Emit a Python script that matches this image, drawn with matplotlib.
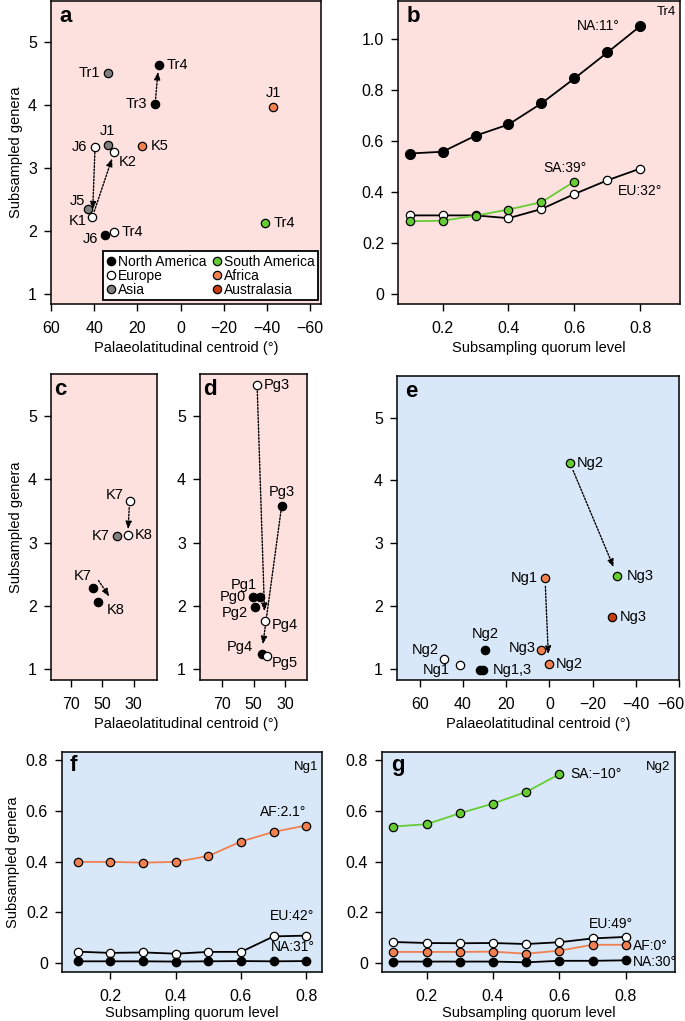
import matplotlib.pyplot as plt
import matplotlib.transforms as mtransforms
from matplotlib.lines import Line2D

plt.rcParams['font.family'] = ['Liberation Sans', 'DejaVu Sans']
plt.rcParams['axes.unicode_minus'] = True

# colours per region
colours = {'NA': 'black', 'EU': 'white', 'AS': '#808080',
           'SA': '#66cc33', 'AF': '#f08050', 'AU': '#c83c14'}
region_names = [('NA', 'North America'), ('EU', 'Europe'), ('AS', 'Asia'),
                ('SA', 'South America'), ('AF', 'Africa'), ('AU', 'Australasia')]

# panel a
a_names = ['Tr1', 'Tr4', 'Tr3', 'J1', 'J6', 'J1', 'K2', 'K5', 'J5', 'K1', 'J6', 'Tr4', 'Tr4']
a_region = ['AS', 'NA', 'NA', 'AF', 'EU', 'AS', 'EU', 'AF', 'AS', 'EU', 'NA', 'EU', 'SA']
a_lat = [33.4, 10.2, 11.8, -42.9, 39.6, 33.7, 30.7, 17.7, 42.8, 40.8, 35.0, 31.0, -39.3]
a_gen = [4.52, 4.645, 4.02, 3.98, 3.34, 3.37, 3.26, 3.35, 2.35, 2.23, 1.94, 1.99, 2.13]
a_arrows = [(2, 1), (4, 9), (9, 6)]

# panel c
c_names = ['K7', 'K8', 'K7', 'K7', 'K8']
c_region = ['EU', 'EU', 'AS', 'NA', 'NA']
c_lat = [32.6, 33.7, 40.7, 56.1, 52.7]
c_gen = [3.66, 3.12, 3.11, 2.29, 2.06]
c_arrows = [(0, 1)]

# panel d
d_names = ['Pg3', 'Pg3', 'Pg1', 'Pg0', 'Pg2', 'Pg4', 'Pg4', 'Pg5']
d_region = ['EU', 'NA', 'NA', 'NA', 'NA', 'EU', 'NA', 'EU']
d_lat = [47.7, 32.1, 46.0, 50.2, 49.1, 42.8, 44.9, 41.7]
d_gen = [5.48, 3.58, 2.14, 2.14, 1.99, 1.76, 1.24, 1.21]
d_arrows = [(0, 5), (1, 6)]

# panel e
e_names = ['Ng2', 'Ng3', 'Ng1', 'Ng3', 'Ng2', 'Ng3', 'Ng2', 'Ng2', 'Ng1', '', 'Ng1,3']
e_region = ['SA', 'SA', 'AF', 'AU', 'NA', 'AF', 'AF', 'EU', 'EU', 'NA', 'NA']
e_lat = [-9.5, -31.5, 2.0, -28.8, 29.7, 3.8, 0.3, 48.8, 41.5, 32.3, 30.5]
e_gen = [4.28, 2.48, 2.45, 1.83, 1.30, 1.30, 1.085, 1.16, 1.07, 0.99, 0.99]
e_arrows = [(0, 1), (2, 6)]

# panels b, f, g
quorum = [0.1, 0.2, 0.3, 0.4, 0.5, 0.6, 0.7, 0.8]
b_eu = [0.308, 0.308, 0.308, 0.297, 0.333, 0.392, 0.446, 0.492]
b_sa = [0.285, 0.287, 0.307, 0.331, 0.360, 0.441]
b_na = [0.551, 0.558, 0.621, 0.665, 0.748, 0.846, 0.948, 1.052]

f_af = [0.399, 0.399, 0.396, 0.399, 0.422, 0.479, 0.517, 0.542]
f_eu = [0.046, 0.041, 0.043, 0.038, 0.045, 0.045, 0.106, 0.109]
f_na = [0.008, 0.008, 0.008, 0.007, 0.008, 0.009, 0.008, 0.009]

g_sa = [0.538, 0.547, 0.590, 0.628, 0.674, 0.744]
g_eu = [0.084, 0.080, 0.079, 0.080, 0.076, 0.083, 0.098, 0.104]
g_af = [0.045, 0.045, 0.045, 0.046, 0.038, 0.050, 0.073, 0.073]
g_na = [0.007, 0.007, 0.007, 0.007, 0.004, 0.010, 0.010, 0.012]

PINK = '#fde1de'
BLUE = '#d8e8f8'
TICK_FS = 11.5
LAB_FS = 10.5
PT_FS = 10.5
LINE_FS = 10
W, H = 685, 1021
fig = plt.figure(figsize=(W / 100, H / 100), dpi=100)


def px_axes(l, t, r, b, bg):
    ax = fig.add_axes([l / W, 1 - b / H, (r - l) / W, (b - t) / H])
    ax.set_facecolor(bg)
    for s in ax.spines.values():
        s.set_linewidth(1.1)
    ax.tick_params(direction='out', length=5, width=1, labelsize=TICK_FS)
    ax.tick_params(axis='x', pad=7)
    ax.tick_params(axis='y', pad=5)
    return ax


def letter(ax, s):
    ax.text(0.03, 0.985, s, transform=ax.transAxes, fontsize=16,
            fontweight='bold', ha='left', va='top')


def scatter_panel(ax, lat, gen, region, names, offsets):
    for x, y, r, n, (dx, dy, ha) in zip(lat, gen, region, names, offsets):
        ax.plot(x, y, 'o', ms=6, mfc=colours[r], mec='black', mew=0.9, zorder=3)
        if n:
            ax.annotate(n, (x, y), xytext=(dx, dy), textcoords='offset points',
                        ha=ha, va='center', fontsize=PT_FS)


def arrows(ax, lat, gen, pairs, sa=4, sb=5):
    for i, j in pairs:
        ax.annotate('', xy=(lat[j], gen[j]), xytext=(lat[i], gen[i]),
                    arrowprops=dict(arrowstyle='-|>,head_length=0.45,head_width=0.18',
                                    ls=(0, (1.2, 1.2)), lw=1, color='black',
                                    shrinkA=sa, shrinkB=sb), zorder=2)


def yfmt(ax, ticks):
    ax.set_yticks(ticks)
    ax.set_yticklabels(['0' if t == 0 else f'{t:.1f}' for t in ticks])


# ---- a
ax = px_axes(51, 1, 321, 304, PINK)
ax.set_xlim(60, -65)
ax.set_ylim(0.84, 5.66)
ax.set_xticks([60, 40, 20, 0, -20, -40, -60])
ax.set_yticks([1, 2, 3, 4, 5])
a_off = [(-6, 0, 'right'), (6, 0, 'left'), (-6, 0, 'right'), (0, 10, 'center'),
         (-6, 0, 'right'), (0, 10, 'center'), (10, -7, 'center'), (6, 0, 'left'),
         (-2, 6, 'right'), (-4, -3, 'right'), (-5, -3, 'right'), (6, 0, 'left'),
         (6, 0, 'left')]
arrows(ax, a_lat, a_gen, a_arrows)
scatter_panel(ax, a_lat, a_gen, a_region, a_names, a_off)
ax.set_xlabel('Palaeolatitudinal centroid (°)', fontsize=LAB_FS, labelpad=4)
ax.set_ylabel('Subsampled genera', fontsize=LAB_FS, labelpad=4)
letter(ax, 'a')
handles = [Line2D([], [], ls='none', marker='o', ms=6, mfc=colours[k], mec='black',
                  mew=0.9, label=v) for k, v in region_names]
leg = ax.legend(handles=handles, ncol=2, loc='lower right',
                bbox_to_anchor=(0.99, 0.012), fontsize=10, frameon=True,
                fancybox=False, framealpha=1, edgecolor='black', borderpad=0.25,
                labelspacing=0.0, handletextpad=0.15, columnspacing=0.4,
                handlelength=0.7, borderaxespad=0)
leg.get_frame().set_linewidth(1.3)

# ---- b
ax = px_axes(398, 1, 680, 304, PINK)
ax.set_xlim(0.065, 0.92)
ax.set_ylim(-0.04, 1.15)
ax.set_xticks([0.2, 0.4, 0.6, 0.8])
yfmt(ax, [0, 0.2, 0.4, 0.6, 0.8, 1.0])
ax.plot(quorum, b_na, '-o', color='black', lw=1.3, ms=7, mfc='black', mec='black')
ax.plot(quorum, b_eu, '-o', color='black', lw=1.3, ms=6, mfc='white', mec='black', mew=0.9)
ax.plot(quorum[:len(b_sa)], b_sa, '-o', color=colours['SA'], lw=1.3, ms=6,
        mfc=colours['SA'], mec='black', mew=0.9)
ax.annotate('NA:11°', (quorum[-1], b_na[-1]), xytext=(-15, 0),
            textcoords='offset points', ha='right', va='center', fontsize=LINE_FS)
ax.annotate('SA:39°', (quorum[len(b_sa) - 1], b_sa[-1]), xytext=(-7, 10),
            textcoords='offset points', ha='center', va='center', fontsize=LINE_FS)
ax.annotate('EU:32°', (quorum[-1], b_eu[-1]), xytext=(0, -16),
            textcoords='offset points', ha='center', va='center', fontsize=LINE_FS)
ax.text(0.985, 0.985, 'Tr4', transform=ax.transAxes, ha='right', va='top', fontsize=9.5)
ax.set_xlabel('Subsampling quorum level', fontsize=LAB_FS, labelpad=4)
letter(ax, 'b')

# ---- c
ax = px_axes(51, 374, 157, 680, PINK)
ax.set_xlim(83, 15)
ax.set_ylim(0.83, 5.66)
ax.set_xticks([70, 50, 30])
ax.set_yticks([1, 2, 3, 4, 5])
c_off = [(-4, 4, 'right'), (5, 0, 'left'), (-5, 0, 'right'), (-1, 8, 'right'), (6, -6, 'left')]
arrows(ax, c_lat, c_gen, c_arrows, sa=5, sb=4)
# NA K7 -> K8 arrow drawn to the right of the points
tA = mtransforms.offset_copy(ax.transData, fig, x=4, y=5, units='points')
tB = mtransforms.offset_copy(ax.transData, fig, x=8, y=4, units='points')
ax.annotate('', xy=(c_lat[4], c_gen[4]), xycoords=tB, xytext=(c_lat[3], c_gen[3]),
            textcoords=tA,
            arrowprops=dict(arrowstyle='-|>,head_length=0.45,head_width=0.18',
                            ls=(0, (1.2, 1.2)), lw=1, color='black', shrinkA=0, shrinkB=0))
scatter_panel(ax, c_lat, c_gen, c_region, c_names, c_off)
ax.set_ylabel('Subsampled genera', fontsize=LAB_FS, labelpad=4)
letter(ax, 'c')

# ---- d
ax = px_axes(200, 374, 307, 680, PINK)
ax.set_xlim(84, 16)
ax.set_ylim(0.83, 5.66)
ax.set_xticks([70, 50, 30])
ax.set_yticks([1, 2, 3, 4, 5])
d_off = [(5, 0, 'left'), (0, 10, 'center'), (-2, 9, 'right'), (-5, 0, 'right'),
         (-5, -5, 'right'), (5, -3, 'left'), (-6, 5, 'right'), (4, -5, 'left')]
arrows(ax, d_lat, d_gen, d_arrows, sa=4, sb=7)
scatter_panel(ax, d_lat, d_gen, d_region, d_names, d_off)
letter(ax, 'd')
fig.text(186 / W, 1 - 724 / H, 'Palaeolatitudinal centroid (°)', ha='center',
         va='center', fontsize=LAB_FS)

# ---- e
ax = px_axes(397, 376, 679, 680, BLUE)
ax.set_xlim(70.5, -60)
ax.set_ylim(0.83, 5.66)
ax.set_xticks([60, 40, 20, 0, -20, -40, -60])
ax.set_yticks([1, 2, 3, 4, 5])
last = ax.get_xticklabels()[-1]
last.set_horizontalalignment('right')
last.set_transform(last.get_transform() + mtransforms.ScaledTranslation(5 / 100, 0, fig.dpi_scale_trans))
e_off = [(5, 0, 'left'), (7, 0, 'left'), (-5, 0, 'right'), (6, 0, 'left'),
         (0, 12, 'center'), (-4, 2, 'right'), (5, 0, 'left'), (-4, 7, 'right'),
         (-7, -4, 'right'), (0, 0, 'left'), (7, 0, 'left')]
arrows(ax, e_lat, e_gen, e_arrows, sa=6, sb=7)
scatter_panel(ax, e_lat, e_gen, e_region, e_names, e_off)
ax.set_xlabel('Palaeolatitudinal centroid (°)', fontsize=LAB_FS, labelpad=4)
letter(ax, 'e')

# ---- f
ax = px_axes(62, 752, 322, 972, BLUE)
ax.set_xlim(0.052, 0.848)
ax.set_ylim(-0.034, 0.831)
ax.set_xticks([0.2, 0.4, 0.6, 0.8])
yfmt(ax, [0, 0.2, 0.4, 0.6, 0.8])
ax.plot(quorum, f_af, '-o', color=colours['AF'], lw=1.3, ms=6, mfc=colours['AF'],
        mec='black', mew=0.9)
ax.plot(quorum, f_eu, '-o', color='black', lw=1.3, ms=6, mfc='white', mec='black', mew=0.9)
ax.plot(quorum, f_na, '-o', color='black', lw=1.3, ms=6, mfc='black', mec='black')
ax.annotate('AF:2.1°', (quorum[-1], f_af[-1]), xytext=(0, 10),
            textcoords='offset points', ha='right', va='center', fontsize=LINE_FS)
ax.annotate('EU:42°', (quorum[-1], f_eu[-1]), xytext=(-10, 14),
            textcoords='offset points', ha='center', va='center', fontsize=LINE_FS)
ax.annotate('NA:31°', (quorum[-1], f_na[-1]), xytext=(-10, 10),
            textcoords='offset points', ha='center', va='center', fontsize=LINE_FS)
ax.text(0.985, 0.96, 'Ng1', transform=ax.transAxes, ha='right', va='top', fontsize=9.5)
ax.set_xlabel('Subsampling quorum level', fontsize=LAB_FS, labelpad=2)
ax.set_ylabel('Subsampled genera', fontsize=LAB_FS, labelpad=4)
letter(ax, 'f')

# ---- g
ax = px_axes(382, 752, 675, 972, BLUE)
ax.set_xlim(0.066, 0.948)
ax.set_ylim(-0.034, 0.831)
ax.set_xticks([0.2, 0.4, 0.6, 0.8])
yfmt(ax, [0, 0.2, 0.4, 0.6, 0.8])
ax.plot(quorum[:len(g_sa)], g_sa, '-o', color=colours['SA'], lw=1.3, ms=6,
        mfc=colours['SA'], mec='black', mew=0.9)
ax.plot(quorum, g_eu, '-o', color='black', lw=1.3, ms=6, mfc='white', mec='black', mew=0.9)
ax.plot(quorum, g_af, '-o', color=colours['AF'], lw=1.3, ms=6, mfc=colours['AF'],
        mec='black', mew=0.9)
ax.plot(quorum, g_na, '-o', color='black', lw=1.3, ms=6, mfc='black', mec='black')
ax.annotate('SA:\u221210°', (quorum[len(g_sa) - 1], g_sa[-1]), xytext=(8, 0),
            textcoords='offset points', ha='left', va='center', fontsize=LINE_FS)
ax.annotate('EU:49°', (quorum[-1], g_eu[-1]), xytext=(-11, 9),
            textcoords='offset points', ha='center', va='center', fontsize=LINE_FS)
ax.annotate('AF:0°', (quorum[-1], g_af[-1]), xytext=(5, -1),
            textcoords='offset points', ha='left', va='center', fontsize=LINE_FS)
ax.annotate('NA:30°', (quorum[-1], g_na[-1]), xytext=(5, -1),
            textcoords='offset points', ha='left', va='center', fontsize=LINE_FS)
ax.text(0.985, 0.96, 'Ng2', transform=ax.transAxes, ha='right', va='top', fontsize=9.5)
ax.set_xlabel('Subsampling quorum level', fontsize=LAB_FS, labelpad=2)
letter(ax, 'g')

fig.savefig('out.png', dpi=100)
